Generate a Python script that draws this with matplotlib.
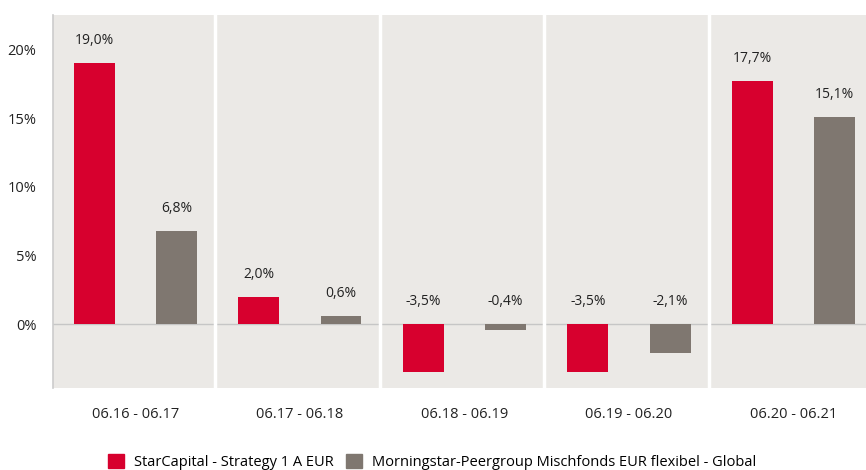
import numpy as np
import matplotlib
matplotlib.use("Agg")
import matplotlib.pyplot as plt
from matplotlib.patches import Patch

periods = ["06.16 - 06.17", "06.17 - 06.18", "06.18 - 06.19", "06.19 - 06.20", "06.20 - 06.21"]
fund = [19.0, 2.0, -3.5, -3.5, 17.7]
peer = [6.8, 0.6, -0.4, -2.1, 15.1]
fund_name = "StarCapital - Strategy 1 A EUR"
peer_name = "Morningstar-Peergroup Mischfonds EUR flexibel - Global"
yticks = [0, 5, 10, 15, 20]

RED = "#d7002e"
GREY = "#7f7770"
BG = "#ebe9e6"

plt.rcParams["font.family"] = ["Open Sans", "DejaVu Sans"]

fig = plt.figure(figsize=(8.66, 4.70), dpi=100)
ax = fig.add_axes([53 / 866, 1 - 388 / 470, 1 - 53 / 866, (388 - 15) / 470])
ax.set_facecolor(BG)

x = np.arange(len(periods))
w = 0.249
off = 0.25
ax.bar(x - off, fund, w, color=RED, zorder=3)
ax.bar(x + off, peer, w, color=GREY, zorder=3)

def fmt(v):
    return f"{v:.1f}%".replace(".", ",")

for xs, vals in ((x - off, fund), (x + off, peer)):
    for xi, v in zip(xs, vals):
        ax.annotate(fmt(v), (xi, max(v, 0)), textcoords="offset points",
                    xytext=(0, 16), ha="center", va="center",
                    fontsize=10, color="#222222", zorder=4)

ax.set_xlim(-0.5, 4.44)
ax.set_ylim(-4.65, 22.5)
ax.axhline(0, color="#c6c6c6", lw=1, zorder=2)
for b in x[:-1] + 0.485:
    ax.axvline(b, color="white", lw=2.5, zorder=2)

ax.set_xticks(x)
ax.set_xticklabels(periods)
ax.set_yticks(yticks)
ax.set_yticklabels([f"{t}%" for t in yticks])
ax.tick_params(length=0, labelsize=10.5, colors="#222222")
ax.tick_params(axis="y", pad=12)
ax.tick_params(axis="x", pad=14)
for s in ("top", "right", "bottom"):
    ax.spines[s].set_visible(False)
ax.spines["left"].set_color("#cccccc")
ax.spines["left"].set_linewidth(1.2)

handles = [Patch(color=RED, label=fund_name), Patch(color=GREY, label=peer_name)]
fig.legend(handles=handles, loc="center", bbox_to_anchor=(0.499, 0.017), ncol=2,
           frameon=False, fontsize=10.5, handlelength=1.1, handleheight=1.1,
           columnspacing=0.8, handletextpad=0.7)

fig.savefig("out.png", dpi=100)
